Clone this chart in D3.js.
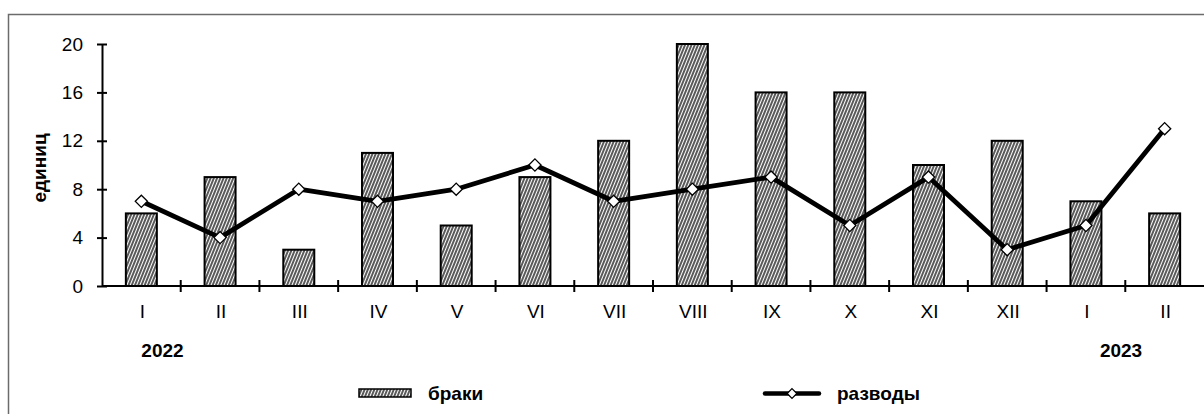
<!DOCTYPE html>
<meta charset="utf-8" />
<html>
<head>
<script src="https://d3js.org/d3.v7.min.js"></script>
<style>
  body { margin: 0; background: #fff; }
  text { font-family: "Liberation Sans", Arial, sans-serif; fill: #000; }
</style>
</head>
<body>
<svg width="1204" height="414"></svg>
<script>
// months (roman), 2022 I .. 2023 II
var months = ["I", "II", "III", "IV", "V", "VI", "VII", "VIII", "IX", "X", "XI", "XII", "I", "II"];
var marriages = [6, 9, 3, 11, 5, 9, 12, 20, 16, 16, 10, 12, 7, 6];
var divorces = [7, 4, 8, 7, 8, 10, 7, 8, 9, 5, 9, 3, 5, 13];
var yTicks = [0, 4, 8, 12, 16, 20];
var years = [{label: "2022", idx: 0}, {label: "2023", idx: 12}];

var svg = d3.select("svg");
// note: "top" is reserved on window, so use plot* names
var plotLeft = 102, plotRight = 1204, plotTop = 44, plotBottom = 286;
var fs = 19;

// outer frame (only top/left visible)
svg.append("path").attr("d", "M8.5,414 V14.5 H1204")
    .attr("fill", "none").attr("stroke", "#6b6b6b").attr("stroke-width", 1.5);

var defs = svg.append("defs");
var pat = defs.append("pattern").attr("id", "hatch").attr("patternUnits", "userSpaceOnUse")
    .attr("width", 3).attr("height", 8).attr("patternTransform", "rotate(22)");
pat.append("rect").attr("width", 3).attr("height", 8).attr("fill", "#fff");
pat.append("line").attr("x1", 1).attr("x2", 1).attr("y1", 0).attr("y2", 8)
    .attr("stroke", "#000").attr("stroke-width", 1.3);

var x = d3.scaleBand().domain(d3.range(months.length)).range([plotLeft, plotRight]);
var y = d3.scaleLinear().domain([0, 20]).range([plotBottom, plotTop]);
function cx(i) { return x(i) + x.bandwidth() / 2; }

// bars
var bw = 31;
svg.append("g").selectAll("rect").data(marriages).join("rect")
    .attr("x", function(d, i) { return cx(i) - bw / 2; })
    .attr("y", function(d) { return y(d); })
    .attr("width", bw)
    .attr("height", function(d) { return y(0) - y(d); })
    .attr("fill", "url(#hatch)").attr("stroke", "#000").attr("stroke-width", 2);

// y axis
var ya = svg.append("g").attr("transform", "translate(" + plotLeft + ",0)")
    .call(d3.axisLeft(y).tickValues(yTicks).tickSize(0).tickPadding(19));
ya.select(".domain").attr("stroke", "#000").attr("stroke-width", 2);
ya.selectAll(".tick text").attr("font-size", fs).attr("fill", "#000");
ya.selectAll(".tick").append("line").attr("x1", -5).attr("x2", 5)
    .attr("stroke", "#000").attr("stroke-width", 2);

// x axis
svg.append("line").attr("x1", plotLeft).attr("x2", plotRight).attr("y1", y(0)).attr("y2", y(0))
    .attr("stroke", "#000").attr("stroke-width", 2);
svg.append("g").selectAll("line").data(d3.range(1, months.length)).join("line")
    .attr("x1", function(i) { return x(i); }).attr("x2", function(i) { return x(i); })
    .attr("y1", y(0) - 6).attr("y2", y(0) + 6)
    .attr("stroke", "#000").attr("stroke-width", 2);
svg.append("g").selectAll("text").data(months).join("text")
    .attr("x", function(d, i) { return cx(i) + 1; })
    .attr("y", y(0) + 32)
    .attr("text-anchor", "middle").attr("font-size", fs)
    .text(function(d) { return d; });

// years (left edges placed as in the original)
var yearShift = [0, 14];
svg.append("g").selectAll("text").data(years).join("text")
    .attr("x", function(d, k) { return cx(d.idx) + yearShift[k]; })
    .attr("y", 357)
    .attr("font-size", fs).attr("font-weight", "bold")
    .text(function(d) { return d.label; });

// y label
svg.append("text").attr("transform", "translate(46," + 168 + ") rotate(-90)")
    .attr("text-anchor", "middle").attr("font-size", fs).attr("font-weight", "bold")
    .text("единиц");

// divorces line
var line = d3.line()
    .x(function(d, i) { return cx(i); })
    .y(function(d) { return y(d); });
svg.append("path").datum(divorces).attr("d", line)
    .attr("fill", "none").attr("stroke", "#000").attr("stroke-width", 4.8).attr("stroke-linejoin", "round");
var diamond = d3.symbol().type(d3.symbolDiamond2).size(95);
svg.append("g").selectAll("path").data(divorces).join("path")
    .attr("d", diamond)
    .attr("transform", function(d, i) { return "translate(" + cx(i) + "," + y(d) + ")"; })
    .attr("fill", "#fff").attr("stroke", "#000").attr("stroke-width", 1.3);

// legend
var lg = svg.append("g");
lg.append("rect").attr("x", 359).attr("y", 389).attr("width", 52).attr("height", 8)
    .attr("fill", "url(#hatch)").attr("stroke", "#000").attr("stroke-width", 1.5);
lg.append("text").attr("x", 428).attr("y", 400).attr("font-size", fs).attr("font-weight", "bold").text("браки");
lg.append("line").attr("x1", 765).attr("x2", 819).attr("y1", 393.5).attr("y2", 393.5)
    .attr("stroke", "#000").attr("stroke-width", 4.5).attr("stroke-linecap", "round");
lg.append("path").attr("d", d3.symbol().type(d3.symbolDiamond2).size(60))
    .attr("transform", "translate(792,393.5)")
    .attr("fill", "#fff").attr("stroke", "#000").attr("stroke-width", 1.3);
lg.append("text").attr("x", 837).attr("y", 400).attr("font-size", fs).attr("font-weight", "bold").text("разводы");
</script>
</body>
</html>
